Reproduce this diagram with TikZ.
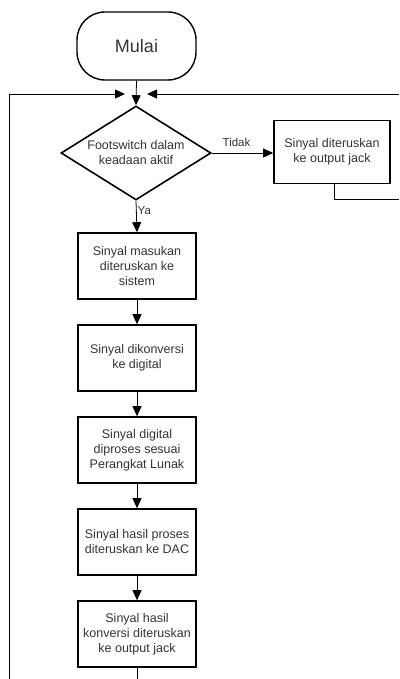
\documentclass[tikz,border=0pt]{standalone}
\usepackage{fontspec}
\setmainfont{Liberation Sans}
\usetikzlibrary{shapes.geometric,arrows.meta,calc}
\begin{document}
\begin{tikzpicture}[x=1pt,y=-1pt,
  every node/.style={font=\fontsize{12.5}{15}\selectfont,text=black!80},
  proc/.style={draw,line width=1.6pt,minimum width=118pt,minimum height=66pt,inner sep=0pt,align=center},
  term/.style={draw,line width=1.4pt,rounded corners=28pt,minimum width=119pt,minimum height=68pt,font=\fontsize{18}{20}\selectfont},
  decision/.style={draw,diamond,line width=1.6pt,aspect=1.6,inner sep=0pt,minimum width=150pt,minimum height=94pt,align=center},
  conn/.style={line width=0.8pt,-{Triangle[length=10pt,width=9pt]}},
  line/.style={line width=0.8pt},
  lbl/.style={font=\fontsize{11.5}{13}\selectfont,inner sep=1pt}]
\useasboundingbox (0,0) rectangle (399,679);
\node[term] (mulai) at (136.5,46) {Mulai};
\node[decision] (d) at (136,153) {Footswitch dalam\\keadaan aktif};
\node[proc,minimum width=116pt,minimum height=63pt] (o) at (332,152) {Sinyal diteruskan\\ke output jack};
\node[proc] (b1) at (137,266) {Sinyal masukan\\diteruskan ke\\sistem};
\node[proc] (b2) at (137,358) {Sinyal dikonversi\\ke digital};
\node[proc] (b3) at (137,450) {Sinyal digital\\diproses sesuai\\Perangkat Lunak};
\node[proc] (b4) at (137,542) {Sinyal hasil proses\\diteruskan ke DAC};
\node[proc] (b5) at (137,634) {Sinyal hasil\\konversi diteruskan\\ke output jack};
\coordinate (lb) at (9,679);
\coordinate (lt) at (9,94);
\coordinate (lend) at (125,94);
\coordinate (rt) at (399,94);
\coordinate (rend) at (147,94);
\coordinate (rb) at (399,199);
\coordinate (bend) at (137,679);
\draw[conn] (mulai.south) -- (d.north);
\draw[conn] (d.east) -- (d.east -| o.west) node[lbl,midway,above,yshift=5pt,xshift=-6pt] {Tidak};
\draw[conn] (d.south) -- (b1.north) node[lbl,pos=0.3,right] {Ya};
\draw[conn] (b1) -- (b2);
\draw[conn] (b2) -- (b3);
\draw[conn] (b3) -- (b4);
\draw[conn] (b4) -- (b5);
\draw[line] (b5.south) -- (bend);
\draw[conn] (lb) -- (lt) -- (lend);
\draw[conn] (rt) -- (rend);
\draw[line] ($(o.south west)!0.52!(o.south east)$) |- (rb);
\end{tikzpicture}
\end{document}
